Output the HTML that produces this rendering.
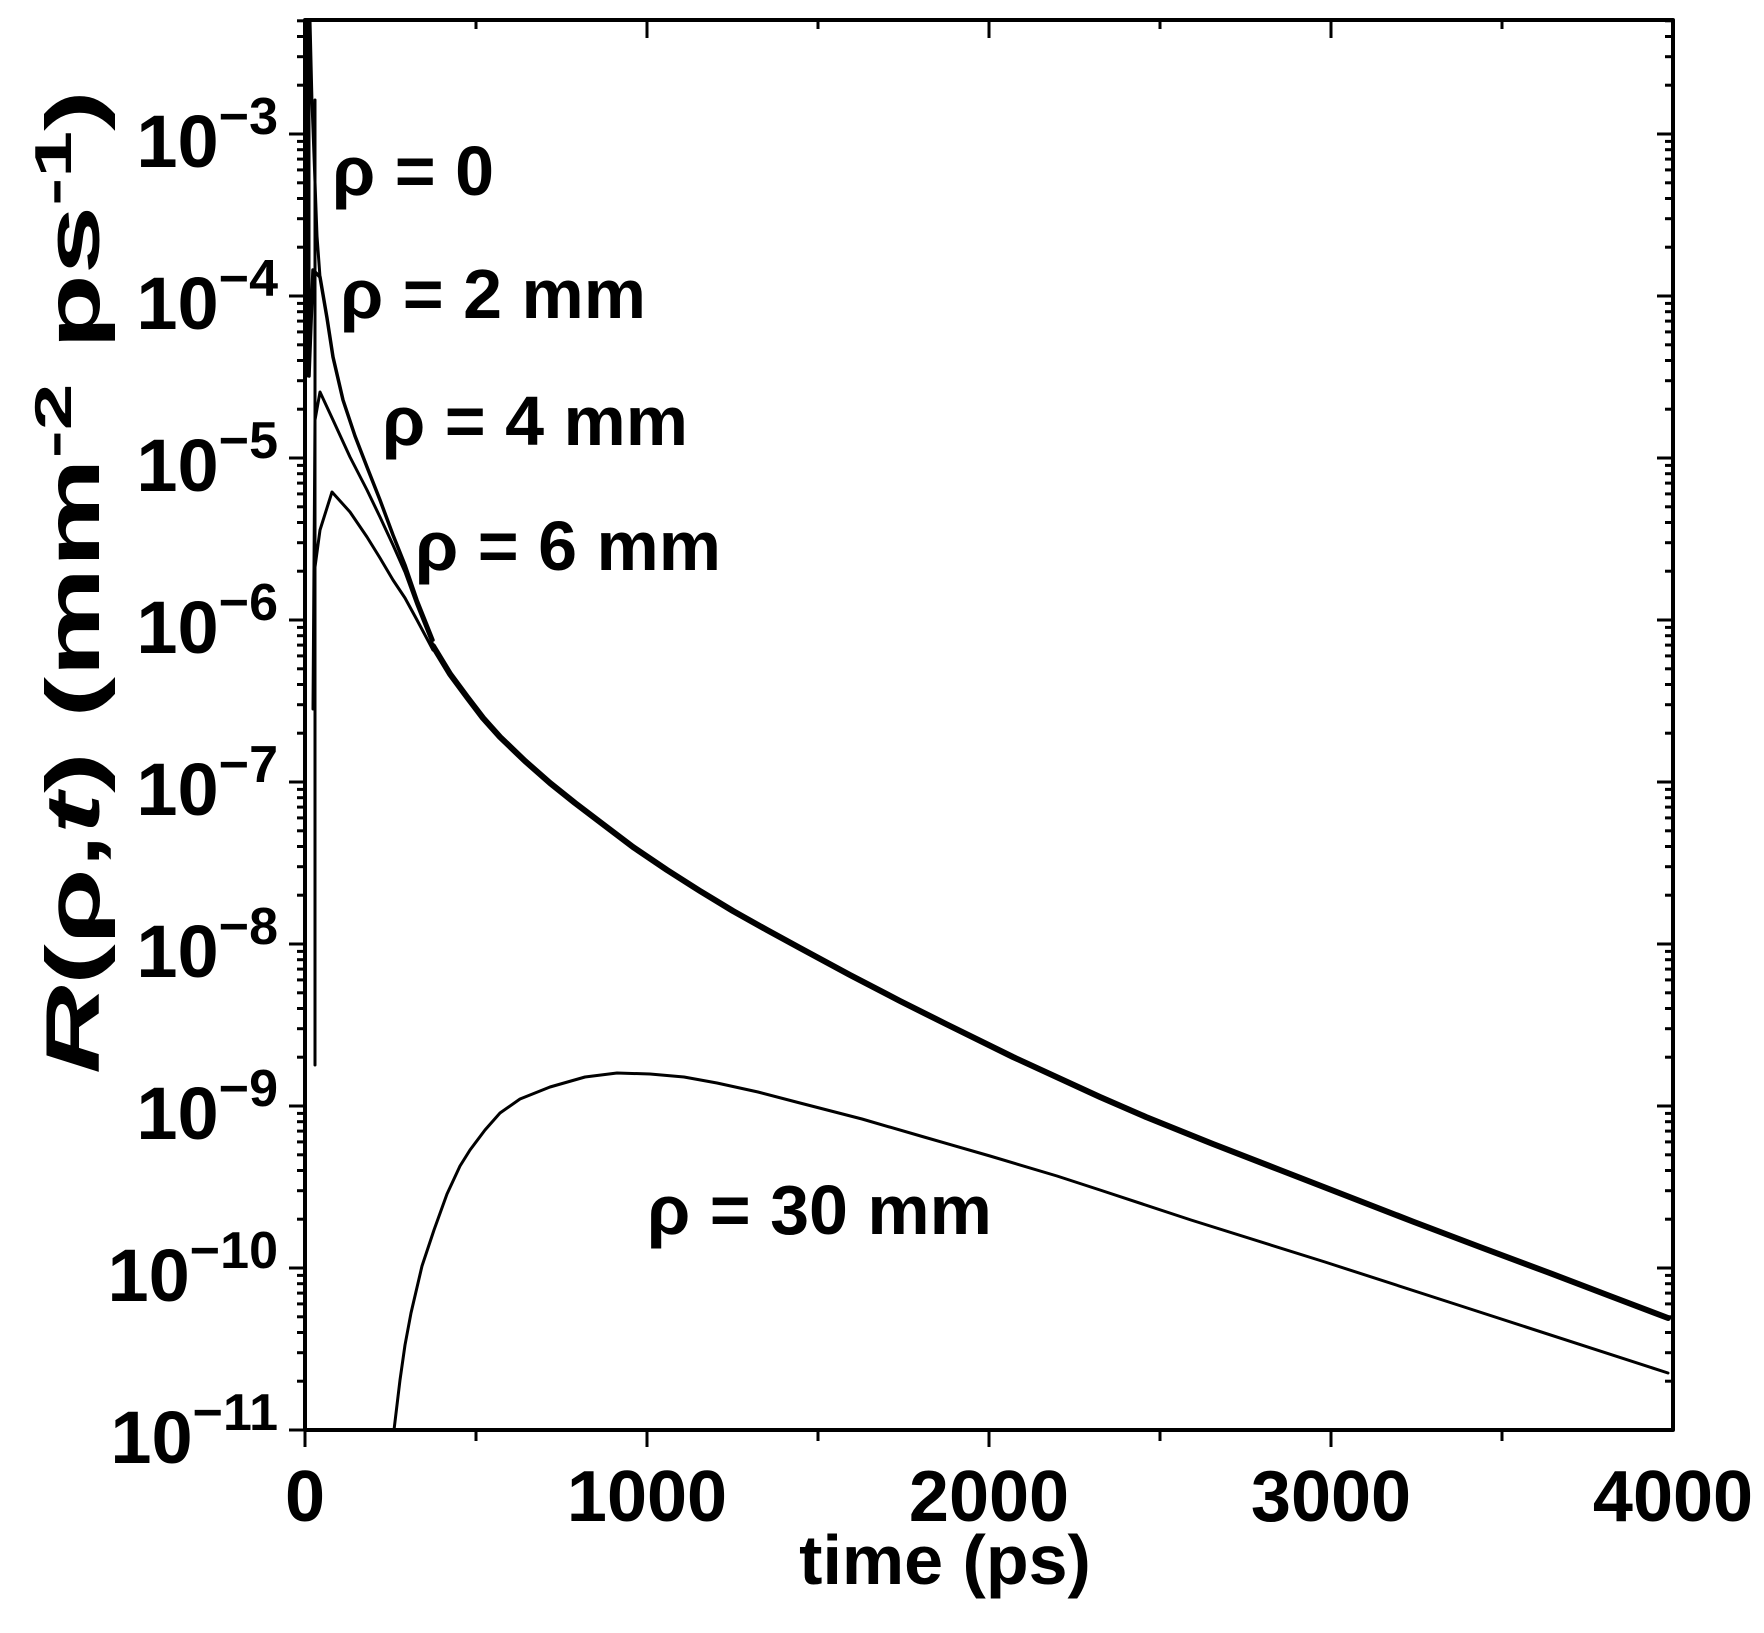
<!DOCTYPE html>
<html><head><meta charset="utf-8"><style>
html,body{margin:0;padding:0;background:#fff;}
svg{display:block;}
text{font-family:"Liberation Sans",Arial,sans-serif;font-weight:bold;fill:#000;}
</style></head><body>
<svg width="1764" height="1633" viewBox="0 0 1764 1633" xmlns="http://www.w3.org/2000/svg">
<defs>
<clipPath id="cp"><rect x="0" y="18" width="1764" height="1500"/></clipPath>
<g id="decL" stroke="#000" stroke-width="3">
<line x1="289" y1="0" x2="305" y2="0"/>
<line x1="297" y1="-48.8" x2="305" y2="-48.8"/>
<line x1="297" y1="-77.3" x2="305" y2="-77.3"/>
<line x1="297" y1="-97.5" x2="305" y2="-97.5"/>
<line x1="297" y1="-113.2" x2="305" y2="-113.2"/>
<line x1="297" y1="-126.1" x2="305" y2="-126.1"/>
<line x1="297" y1="-136.9" x2="305" y2="-136.9"/>
<line x1="297" y1="-146.3" x2="305" y2="-146.3"/>
<line x1="297" y1="-154.6" x2="305" y2="-154.6"/>
<line x1="1657" y1="0" x2="1673" y2="0"/>
<line x1="1665" y1="-48.8" x2="1673" y2="-48.8"/>
<line x1="1665" y1="-77.3" x2="1673" y2="-77.3"/>
<line x1="1665" y1="-97.5" x2="1673" y2="-97.5"/>
<line x1="1665" y1="-113.2" x2="1673" y2="-113.2"/>
<line x1="1665" y1="-126.1" x2="1673" y2="-126.1"/>
<line x1="1665" y1="-136.9" x2="1673" y2="-136.9"/>
<line x1="1665" y1="-146.3" x2="1673" y2="-146.3"/>
<line x1="1665" y1="-154.6" x2="1673" y2="-154.6"/>
</g>
</defs>
<g clip-path="url(#cp)">
<use href="#decL" transform="translate(0,1430)"/>
<use href="#decL" transform="translate(0,1268)"/>
<use href="#decL" transform="translate(0,1106)"/>
<use href="#decL" transform="translate(0,944)"/>
<use href="#decL" transform="translate(0,782)"/>
<use href="#decL" transform="translate(0,620)"/>
<use href="#decL" transform="translate(0,458)"/>
<use href="#decL" transform="translate(0,296)"/>
<use href="#decL" transform="translate(0,134)"/>
</g>
<g stroke="#000" stroke-width="3">
<line x1="305" y1="1430" x2="305" y2="1447"/><line x1="476" y1="1430" x2="476" y2="1441"/>
<line x1="647" y1="1430" x2="647" y2="1447"/><line x1="818" y1="1430" x2="818" y2="1441"/>
<line x1="989" y1="1430" x2="989" y2="1447"/><line x1="1160" y1="1430" x2="1160" y2="1441"/>
<line x1="1331" y1="1430" x2="1331" y2="1447"/><line x1="1502" y1="1430" x2="1502" y2="1441"/>
<line x1="476" y1="20" x2="476" y2="29"/><line x1="647" y1="20" x2="647" y2="38"/>
<line x1="818" y1="20" x2="818" y2="29"/><line x1="989" y1="20" x2="989" y2="38"/>
<line x1="1160" y1="20" x2="1160" y2="29"/><line x1="1331" y1="20" x2="1331" y2="38"/>
<line x1="1502" y1="20" x2="1502" y2="29"/>
</g>
<g fill="none" stroke="#000" stroke-linejoin="round" stroke-linecap="round">
<polyline stroke-width="5" points="308,22 308,375"/>
<polyline stroke-width="3" points="315,100 315,1065"/>
<polyline stroke-width="3" points="310,20 312,103 315,182 317,236 320,277"/>
<polyline stroke-width="3.5" points="309,376 313,270 320,277 327,318 333,357 343,400 355,436 367,467 380,500 393,535 405,565 417,600 433,640"/>
<polyline stroke-width="3" points="313,709 315,420 320,392 333,420 350,457 367,490 380,517 393,545 405,572 417,605 433,645"/>
<polyline stroke-width="3" points="315,567 320,530 332,492 350,512 367,537 380,558 393,580 405,598 417,620 433,650"/>
<polyline stroke-width="6" points="433,646 450,674 467,697 483,718 500,737 525,761 550,783 575,803 600,822 633,847 667,870 700,891 733,911 767,930 800,948 850,975 900,1001 946,1024 1013,1057 1100,1097 1146,1117 1213,1144 1280,1170 1347,1196 1414,1222 1480,1247 1547,1272 1610,1296 1668,1318"/>
<polyline stroke-width="3" points="394,1430 400,1380 405,1345 411,1313 422,1266 434,1230 447,1194 460,1166 470,1150 485,1130 500,1113 520,1099 550,1087 585,1077 617,1073 650,1074 684,1077 717,1083 758,1092 800,1103 862,1119 924,1137 990,1156 1057,1176 1100,1190 1191,1220 1325,1262 1458,1305 1668,1373"/>
<rect x="305" y="20" width="1368" height="1410" stroke-width="4"/>
</g>
<g font-size="74">
<text x="278" y="167" text-anchor="end">10<tspan font-size="52" dy="-33">−3</tspan></text>
<text x="278" y="329" text-anchor="end">10<tspan font-size="52" dy="-33">−4</tspan></text>
<text x="278" y="491" text-anchor="end">10<tspan font-size="52" dy="-33">−5</tspan></text>
<text x="278" y="653" text-anchor="end">10<tspan font-size="52" dy="-33">−6</tspan></text>
<text x="278" y="815" text-anchor="end">10<tspan font-size="52" dy="-33">−7</tspan></text>
<text x="278" y="977" text-anchor="end">10<tspan font-size="52" dy="-33">−8</tspan></text>
<text x="278" y="1139" text-anchor="end">10<tspan font-size="52" dy="-33">−9</tspan></text>
<text x="278" y="1301" text-anchor="end">10<tspan font-size="52" dy="-33">−10</tspan></text>
<text x="278" y="1463" text-anchor="end">10<tspan font-size="52" dy="-33">−11</tspan></text>
</g>
<g font-size="72" text-anchor="middle">
<text x="305" y="1521">0</text>
<text x="647" y="1521">1000</text>
<text x="989" y="1521">2000</text>
<text x="1331" y="1521">3000</text>
<text x="1673" y="1521">4000</text>
</g>
<text x="945" y="1584" font-size="70" text-anchor="middle">time (ps)</text>
<text transform="translate(99,582) rotate(-90)" font-size="76" text-anchor="middle" textLength="984" lengthAdjust="spacingAndGlyphs"><tspan font-style="italic">R</tspan>(ρ,<tspan font-style="italic">t</tspan>) (mm<tspan font-size="52" dy="-28">-2</tspan><tspan dy="28"> ps</tspan><tspan font-size="52" dy="-28">-1</tspan><tspan dy="28">)</tspan></text>
<g font-size="70">
<text x="332" y="195">ρ = 0</text>
<text x="340" y="318">ρ = 2 mm</text>
<text x="382" y="445">ρ = 4 mm</text>
<text x="415" y="570">ρ = 6 mm</text>
<text x="647" y="1234">ρ = 30 mm</text>
</g>
</svg>
</body></html>
